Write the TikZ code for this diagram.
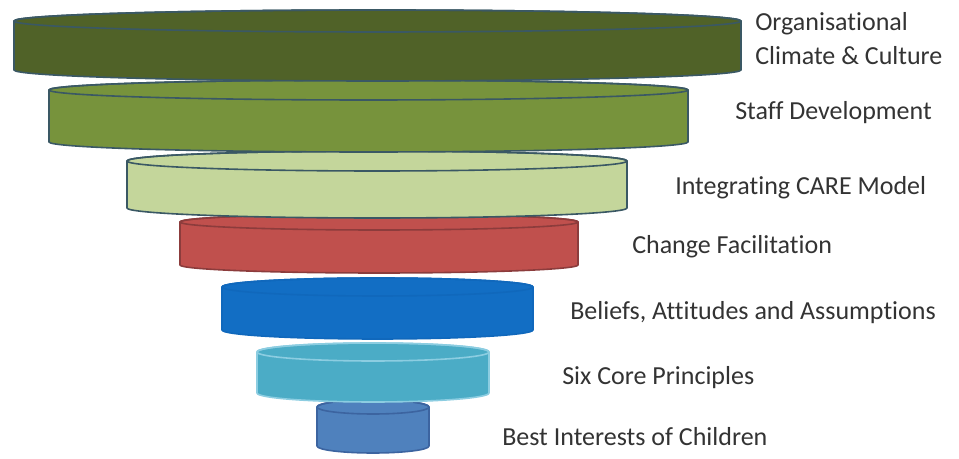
\documentclass[tikz,border=0pt]{standalone}
\usepackage{fontspec}
\setmainfont[Ligatures = NoCommon]{Carlito}
\usepackage{tikz}
\usetikzlibrary{positioning}
\definecolor{olivedark}{RGB}{80,98,40}
\definecolor{olivemid}{RGB}{119,147,60}
\definecolor{olivelight}{RGB}{196,214,155}
\definecolor{careRed}{RGB}{192,80,77}
\definecolor{careBlue}{RGB}{18,110,196}
\definecolor{careCyan}{RGB}{75,172,198}
\definecolor{careSteel}{RGB}{79,129,189}
\definecolor{edgeSlate}{RGB}{58,88,100}
\definecolor{edgeRed}{RGB}{140,60,60}
\definecolor{edgeBlue}{RGB}{16,104,188}
\definecolor{edgeCyan}{RGB}{140,205,225}
\definecolor{edgeSteel}{RGB}{60,100,160}
\tikzset{layerbody/.style = {line width = 1.2pt, line join = round},
  lbl/.style = {anchor = west, inner sep = 0, text = black!80, font = \fontsize{19.5}{25}\selectfont, align = left}}
% #1 centre x, #2 half width, #3 top, #4 bottom, #5 y radius, #6 fill, #7 edge
\newcommand{\layer}[7]{%
  \filldraw [layerbody, fill = #6, draw = #7] (#1-#2, #3) -- (#1-#2, #4)
    arc [start angle = 180, end angle = 360, x radius = #2, y radius = #5]
    -- (#1+#2, #3) arc [start angle = 0, end angle = 180, x radius = #2, y radius = #5] -- cycle;
  \draw [layerbody, draw = #7] (#1, #3) ellipse [x radius = #2, y radius = #5];
}

\begin{document}
\begin{tikzpicture}[x = 0.75pt, y = 0.75pt]
    \useasboundingbox (0, 0) rectangle (959, 459);
    \layer{373}{56}{52}{13}{7}{careSteel}{edgeSteel}
    \layer{373}{116}{107}{66}{9}{careCyan}{edgeCyan}
    \layer{377.5}{155.5}{172}{129}{9}{careBlue}{edgeBlue}
    \layer{379}{199}{237}{194}{8}{careRed}{edgeRed}
    \layer{377}{250}{298}{251}{10}{olivelight}{edgeSlate}
    \layer{368.5}{319.5}{369}{317}{10}{olivemid}{edgeSlate}
    \layer{377.5}{363.5}{438}{389}{11}{olivedark}{edgeSlate}
    \node [lbl] (org) at (755, 420.5) {Organisational\\Climate \& Culture};
    \node [lbl] (staff) at (735, 346) {Staff Development};
    \node [lbl] (care) at (675, 271) {Integrating CARE Model};
    \node [lbl] (change) at (632, 212) {Change Facilitation};
    \node [lbl] (beliefs) at (570, 146) {Beliefs, Attitudes and Assumptions};
    \node [lbl] (six) at (562, 81) {Six Core Principles};
    \node [lbl] (best) at (502, 22) {Best Interests of Children};
  \end{tikzpicture}
\end{document}
